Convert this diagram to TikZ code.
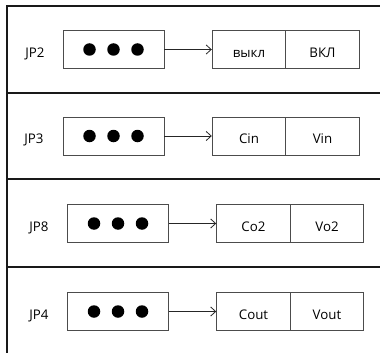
\documentclass[tikz,border=0pt]{standalone}
\usepackage{fontspec}
\setmainfont{Open Sans}
\usetikzlibrary{arrows.meta}
\begin{document}
\begin{tikzpicture}[x=1pt,y=-1pt,
  frame/.style={line width=2pt,black!90},
  txt/.style={font=\fontsize{13.3}{15}\selectfont,text height=15pt,text depth=0pt},
  jbox/.style={draw=black!70,line width=0.9pt,minimum width=101pt,minimum height=38pt,inner sep=0pt},
  cell/.style={txt,draw=black!70,line width=0.9pt,minimum width=73.5pt,minimum height=38pt,inner sep=0pt},
  lbl/.style={txt,inner sep=0pt},
  pin/.style={circle,fill=black,inner sep=0pt,minimum size=12.5pt},
  conn/.style={-{Straight Barb[length=5pt,width=9pt]},line width=0.8pt,black!85}]
\useasboundingbox (0,0) rectangle (380,353);
% frame
\draw[frame] (7,353) -- (7,6) -- (380,6);
\draw[frame] (6,93) -- (380,93);
\draw[frame] (6,179) -- (380,179);
\draw[frame] (6,267) -- (380,267);
% row 1
\node[lbl] (l1) at (35,49.5) {JP2};
\node[jbox] (j1) at (113.5,49.5) {};
\node[pin] (p11) at (89.5,49.5) {};
\node[pin] (p12) at (113.5,49.5) {};
\node[pin] (p13) at (137.5,49.5) {};
\node[cell] (a1) at (249,49.5) {выкл};
\node[cell] (b1) at (322.5,49.5) {ВКЛ};
\draw[conn] (j1.east) -- (a1.west);
% row 2
\node[lbl] (l2) at (34,136) {JP3};
\node[jbox] (j2) at (113.5,136) {};
\node[pin] (p21) at (89.5,136) {};
\node[pin] (p22) at (113.5,136) {};
\node[pin] (p23) at (137.5,136) {};
\node[cell] (a2) at (249,136) {Cin};
\node[cell] (b2) at (322.5,136) {Vin};
\draw[conn] (j2.east) -- (a2.west);
% row 3
\node[lbl] (l3) at (39,223.5) {JP8};
\node[jbox] (j3) at (118,223.5) {};
\node[pin] (p31) at (94,223.5) {};
\node[pin] (p32) at (118,223.5) {};
\node[pin] (p33) at (142,223.5) {};
\node[cell] (a3) at (253.5,223.5) {Co2};
\node[cell] (b3) at (327,223.5) {Vo2};
\draw[conn] (j3.east) -- (a3.west);
% row 4
\node[lbl] (l4) at (39,311.5) {JP4};
\node[jbox] (j4) at (118,311.5) {};
\node[pin] (p41) at (94,311.5) {};
\node[pin] (p42) at (118,311.5) {};
\node[pin] (p43) at (142,311.5) {};
\node[cell] (a4) at (253.5,311.5) {Cout};
\node[cell] (b4) at (327,311.5) {Vout};
\draw[conn] (j4.east) -- (a4.west);
\end{tikzpicture}
\end{document}
